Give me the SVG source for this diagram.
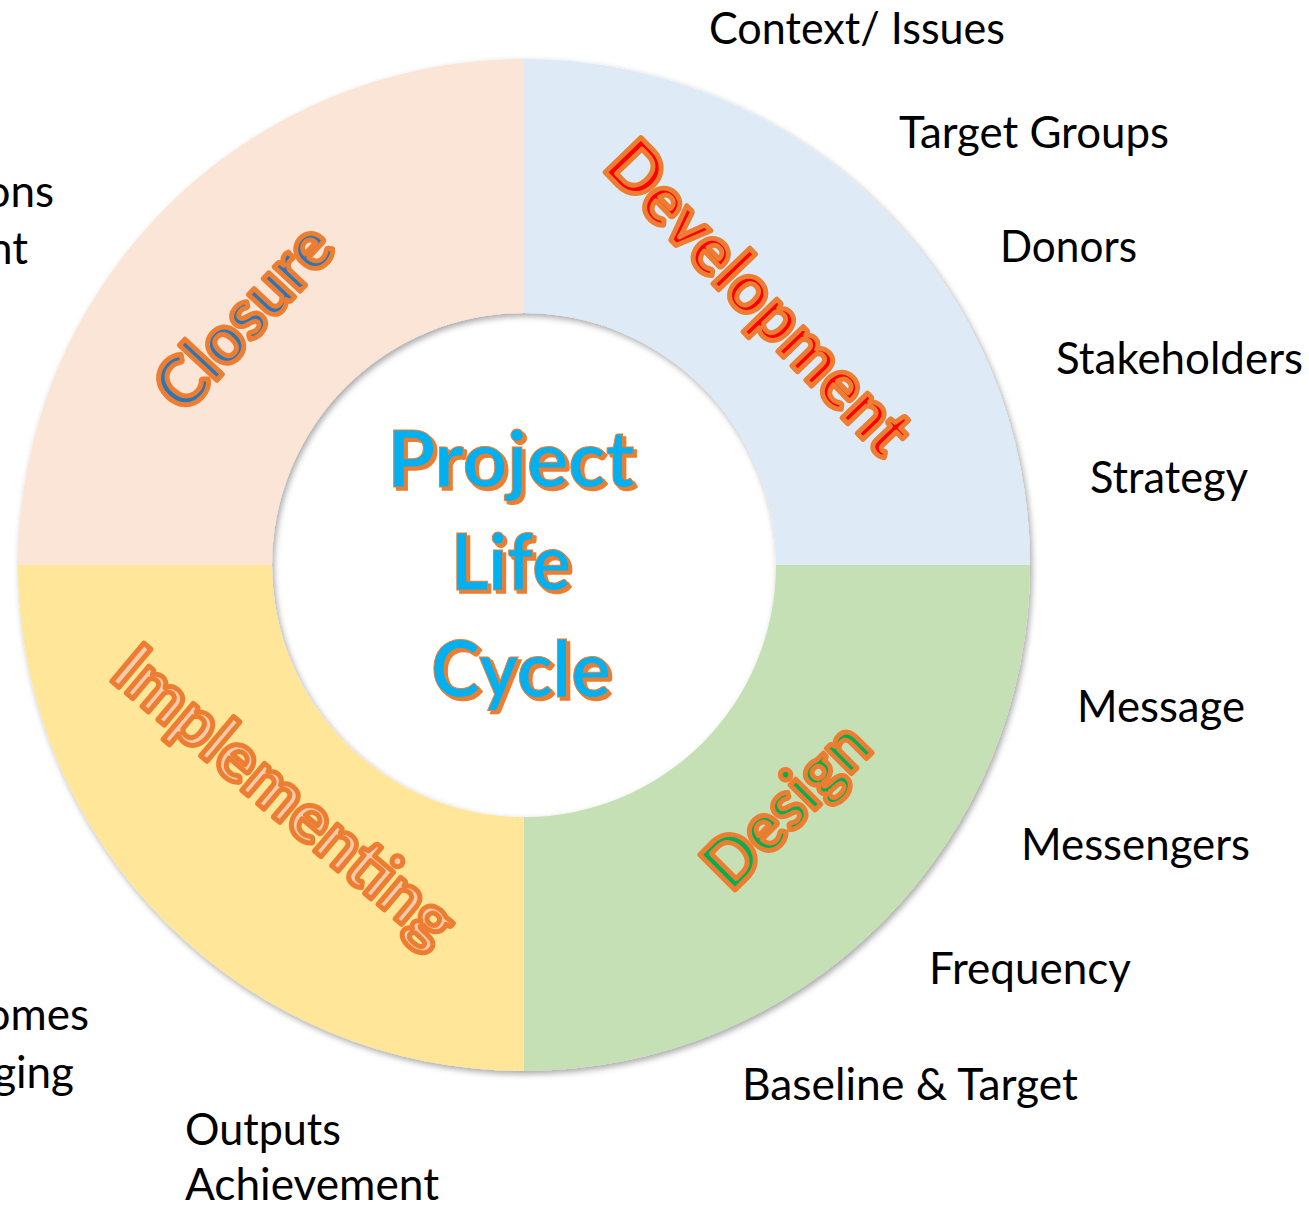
<svg xmlns="http://www.w3.org/2000/svg" width="1309" height="1205" viewBox="0 0 1309 1205">
<defs>
<filter id="ringShadow" x="-10%" y="-10%" width="120%" height="120%">
<feDropShadow dx="2" dy="3" stdDeviation="3" flood-color="#000" flood-opacity="0.35"/>
</filter>
<style>
.item{font-family:Lato,"Liberation Sans",sans-serif;font-size:44px;fill:#000}
.phase{font-family:Lato,"Liberation Sans",sans-serif;font-weight:700;font-size:69px;stroke:#ED7D31;stroke-width:5;stroke-linejoin:round;text-anchor:middle}
.title{font-family:Lato,"Liberation Sans",sans-serif;font-weight:700;font-size:78px;text-anchor:middle}
.tshadow{fill:#ED7D31;stroke:#ED7D31;stroke-width:1.5}
.tmain{fill:#00B0F0;stroke:#ED7D31;stroke-width:1}
</style>
</defs>
<rect width="1309" height="1205" fill="#fff"/>
<g id="ring" filter="url(#ringShadow)">
<g id="seg-development"><path d="M524,59 A506,506 0 0 1 1030,565 L776,565 A252,252 0 0 0 524,313 Z" fill="#DEEBF7"/></g>
<g id="seg-design"><path d="M1030,565 A506,506 0 0 1 524,1071 L524,817 A252,252 0 0 0 776,565 Z" fill="#C5E0B4"/></g>
<g id="seg-implementing"><path d="M524,1071 A506,506 0 0 1 18,565 L272,565 A252,252 0 0 0 524,817 Z" fill="#FFE699"/></g>
<g id="seg-closure"><path d="M18,565 A506,506 0 0 1 524,59 L524,313 A252,252 0 0 0 272,565 Z" fill="#FBE5D6"/></g>
</g>
<g id="connectors"/>
<g id="label-development" transform="translate(742,314) rotate(46)"><text class="phase" x="0" y="0" fill="#FF0000" textLength="405" lengthAdjust="spacingAndGlyphs">Development</text></g>
<g id="label-closure" transform="translate(261,333) rotate(-47)"><text class="phase" x="0" y="0" fill="#2E75B6" textLength="226" lengthAdjust="spacingAndGlyphs">Closure</text></g>
<g id="label-design" transform="translate(803,822) rotate(-45)"><text class="phase" x="0" y="0" fill="#00B050" textLength="203" lengthAdjust="spacingAndGlyphs">Design</text></g>
<g id="label-implementing" transform="translate(270,814) rotate(40)"><text class="phase" x="0" y="0" fill="#F8CBAD" textLength="424" lengthAdjust="spacingAndGlyphs">Implementing</text></g>
<g id="center-title">
<g class="title tshadow" transform="translate(3,3)">
<text x="511" y="487" textLength="247" lengthAdjust="spacingAndGlyphs">Project</text>
<text x="511" y="590" textLength="120" lengthAdjust="spacingAndGlyphs">Life</text>
<text x="521" y="697" textLength="180" lengthAdjust="spacingAndGlyphs">Cycle</text>
</g>
<g class="title tmain">
<text x="511" y="487" textLength="247" lengthAdjust="spacingAndGlyphs">Project</text>
<text x="511" y="590" textLength="120" lengthAdjust="spacingAndGlyphs">Life</text>
<text x="521" y="697" textLength="180" lengthAdjust="spacingAndGlyphs">Cycle</text>
</g>
</g>
<g id="items">
<text class="item" x="709" y="44" textLength="296" lengthAdjust="spacingAndGlyphs">Context/ Issues</text>
<text class="item" x="899" y="148" textLength="270" lengthAdjust="spacingAndGlyphs">Target Groups</text>
<text class="item" x="1000" y="262" textLength="137" lengthAdjust="spacingAndGlyphs">Donors</text>
<text class="item" x="1056" y="374" textLength="247" lengthAdjust="spacingAndGlyphs">Stakeholders</text>
<text class="item" x="1090" y="493" textLength="158" lengthAdjust="spacingAndGlyphs">Strategy</text>
<text class="item" x="1077" y="722" textLength="168" lengthAdjust="spacingAndGlyphs">Message</text>
<text class="item" x="1021" y="860" textLength="229" lengthAdjust="spacingAndGlyphs">Messengers</text>
<text class="item" x="929" y="984" textLength="202" lengthAdjust="spacingAndGlyphs">Frequency</text>
<text class="item" x="742" y="1100" textLength="336" lengthAdjust="spacingAndGlyphs">Baseline &amp; Target</text>
<text class="item" x="185" y="1145" textLength="156" lengthAdjust="spacingAndGlyphs">Outputs</text>
<text class="item" x="185" y="1200" textLength="254" lengthAdjust="spacingAndGlyphs">Achievement</text>
<text class="item" x="89" y="1030" text-anchor="end">omes</text>
<text class="item" x="74" y="1088" text-anchor="end">ging</text>
<text class="item" x="54" y="207" text-anchor="end">ons</text>
<text class="item" x="28" y="264" text-anchor="end">nt</text>
</g>
</svg>
